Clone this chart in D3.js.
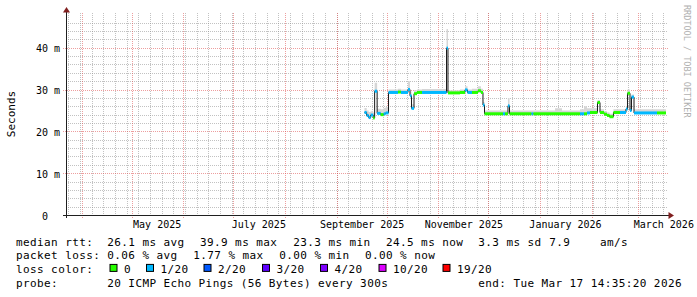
<!DOCTYPE html>
<html>
<head>
<meta charset="utf-8">
<script src="https://cdn.jsdelivr.net/npm/d3@7"></script>
<style>
  body { margin: 0; background: #fff; }
  svg text { font-family: "DejaVu Sans Mono", monospace; }
</style>
</head>
<body>
<div id="chart"></div>
<script>
const endTime = new Date(2026, 2, 17, 14, 35, 20);
const startTime = new Date(endTime.getTime() - 360 * 864e5);

// median rtt (ms), loss step index and top of the smoke (ms), held until the next sample
const times = [
  "2025-09-17T17:00", "2025-09-19T00:00", "2025-09-20T05:00", "2025-09-21T10:00", "2025-09-22T22:00",
  "2025-09-23T19:00", "2025-09-25T07:00", "2025-09-27T10:00", "2025-09-29T05:00", "2025-09-30T10:00",
  "2025-10-02T03:00", "2025-10-07T19:00", "2025-10-09T14:00", "2025-10-13T19:00", "2025-10-15T00:00",
  "2025-10-15T22:00", "2025-10-17T10:00", "2025-10-19T05:00", "2025-10-22T05:00", "2025-11-05T22:00",
  "2025-11-06T19:00", "2025-11-14T00:00", "2025-11-17T00:00", "2025-11-18T12:00", "2025-11-21T05:00",
  "2025-11-24T19:00", "2025-11-26T14:00", "2025-11-27T19:00", "2025-11-28T17:00", "2025-12-09T19:00",
  "2025-12-11T00:00", "2025-12-12T19:00", "2025-12-13T17:00", "2025-12-26T22:00", "2025-12-28T02:00",
  "2026-01-10T00:00", "2026-01-14T05:00", "2026-01-25T00:00", "2026-01-27T10:00", "2026-01-29T05:00",
  "2026-01-31T00:00", "2026-02-04T12:00", "2026-02-06T00:00", "2026-02-08T10:00", "2026-02-10T05:00",
  "2026-02-11T17:00", "2026-02-14T02:00", "2026-02-18T00:00", "2026-02-21T14:00", "2026-02-22T12:00",
  "2026-02-24T00:00", "2026-02-24T22:00", "2026-02-26T10:00", "2026-03-12T05:00"
];
const median = [
  24.5, 23.8, 23.3, 23.9, 23.2,
  29.6, 24.3, 24.0, 24.2, 24.4,
  29.3, 29.4, 29.3, 30.0, 28.5,
  25.5, 29.0, 29.3, 29.3, 39.9,
  29.2, 29.3, 29.9, 29.3, 29.3,
  29.7, 29.3, 26.3, 24.2, 24.2,
  24.2, 26.1, 24.2, 24.2, 24.2,
  24.2, 24.2, 24.2, 24.2, 24.4,
  24.5, 26.9, 24.5, 24.1, 23.8,
  23.5, 24.5, 24.5, 25.3, 29.1,
  25.0, 28.2, 24.4, 24.4
];
const lossStep = [
  1, 1, 1, 1, 0,
  1, 1, 0, 1, 1,
  1, 0, 1, 1, 1,
  1, 0, 0, 1, 1,
  0, 0, 1, 1, 0,
  0, 0, 1, 0, 1,
  0, 1, 0, 1, 0,
  0, 0, 1, 0, 1,
  0, 0, 0, 0, 0,
  0, 0, 1, 1, 0,
  1, 1, 1, 0
];
const smokeTop = [
  25.6, 25.0, 24.6, 24.8, 24.5,
  31.6, 25.4, 25.3, 25.6, 25.8,
  30.0, 30.2, 30.0, 32.0, 29.5,
  26.5, 29.8, 30.0, 30.1, 44.5,
  29.8, 30.0, 30.8, 30.0, 30.2,
  30.8, 30.2, 27.0, 25.0, 25.0,
  25.0, 28.0, 25.0, 25.0, 25.0,
  25.5, 25.0, 25.3, 26.0, 25.5,
  25.5, 27.5, 25.3, 24.8, 24.5,
  24.2, 25.3, 25.3, 26.0, 30.0,
  25.6, 28.8, 25.3, 25.3
];

const lossLabels = ["0", "1/20", "2/20", "3/20", "4/20", "10/20", "19/20"];
const lossColors = ["#26ff00", "#00b8ff", "#0059ff", "#5e00ff", "#7e00ff", "#dd00ff", "#ff0000"];
const yTicks = [0, 10, 20, 30, 40];
const labelMonths = ["2025-05", "2025-07", "2025-09", "2025-11", "2026-01", "2026-03"];
const rttStats = ["26.1 ms avg", "39.9 ms max", "23.3 ms min", "24.5 ms now", "3.3 ms sd", "7.9", "am/s"];
const lossStats = ["0.06 % avg", "1.77 % max", "0.00 % min", "0.00 % now"];
const probeText = "20 ICMP Echo Pings (56 Bytes) every 300s";
const endText = "end: Tue Mar 17 14:35:20 2026";

const width = 697;
const height = 297;
const plot = { left: 66, right: 666, top: 15, bottom: 215 };

const parse = d3.timeParse("%Y-%m-%dT%H:%M");
const data = times.map((t, i) => ({
  t: parse(t), v: median[i], loss: lossStep[i], hi: smokeTop[i]
}));
const line = data.concat([{ ...data[data.length - 1], t: endTime }]);

const svg = d3.select("#chart")
  .append("svg")
  .attr("width", width)
  .attr("height", height);

const x = d3.scaleTime()
  .domain([startTime, endTime])
  .range([plot.left, plot.right]);

const y = d3.scaleLinear()
  .domain([0, 47.82])
  .range([plot.bottom, plot.top]);

// grid
const grid = svg.append("g").attr("shape-rendering", "crispEdges");
const minorX = d3.timeMonday.range(startTime, endTime);
const majorX = d3.timeMonth.range(startTime, endTime);
const minorY = d3.range(2, 48, 2).filter(v => v % 10 && y(v) >= 13);

grid.selectAll(".vmin")
  .data(minorX)
  .join("line")
    .attr("x1", d => Math.round(x(d)) + 0.5)
    .attr("x2", d => Math.round(x(d)) + 0.5)
    .attr("y1", 13)
    .attr("y2", plot.bottom)
    .attr("stroke", "rgba(143,143,143,0.55)")
    .attr("stroke-dasharray", "1,1");

grid.selectAll(".hmin")
  .data(minorY)
  .join("line")
    .attr("x1", plot.left)
    .attr("x2", plot.right + 2)
    .attr("y1", d => Math.round(y(d)) + 0.5)
    .attr("y2", d => Math.round(y(d)) + 0.5)
    .attr("stroke", "rgba(143,143,143,0.55)")
    .attr("stroke-dasharray", "1,1");

grid.selectAll(".vmaj")
  .data(majorX)
  .join("line")
    .attr("x1", d => Math.round(x(d)) + 0.5)
    .attr("x2", d => Math.round(x(d)) + 0.5)
    .attr("y1", 13)
    .attr("y2", plot.bottom + 3)
    .attr("stroke", "rgba(222,79,79,0.55)")
    .attr("stroke-dasharray", "1,1");

grid.selectAll(".hmaj")
  .data(yTicks.filter(v => v > 0))
  .join("line")
    .attr("x1", plot.left - 3)
    .attr("x2", plot.right + 2)
    .attr("y1", d => Math.round(y(d)) + 0.5)
    .attr("y2", d => Math.round(y(d)) + 0.5)
    .attr("stroke", "rgba(222,79,79,0.55)")
    .attr("stroke-dasharray", "1,1");

// smoke
svg.append("path")
  .datum(line)
  .attr("fill", "#d6d6d6")
  .attr("d", d3.area()
    .curve(d3.curveStepAfter)
    .x(d => x(d.t))
    .y0(d => y(d.v))
    .y1(d => y(d.hi)));

// median line
svg.append("path")
  .datum(line)
  .attr("fill", "none")
  .attr("stroke", "#1a1a1a")
  .attr("stroke-width", 1)
  .attr("d", d3.line()
    .curve(d3.curveStepAfter)
    .x(d => x(d.t))
    .y(d => y(d.v)));

// loss colour band over the median
svg.append("g")
  .selectAll("rect")
  .data(data)
  .join("rect")
    .attr("x", d => x(d.t))
    .attr("width", (d, i) => x(line[i + 1].t) - x(d.t))
    .attr("y", d => y(d.v) - 1.5)
    .attr("height", 3)
    .attr("fill", d => lossColors[d.loss]);

// axes
svg.append("line")
  .attr("x1", 63).attr("x2", 669)
  .attr("y1", plot.bottom + 0.5).attr("y2", plot.bottom + 0.5)
  .attr("stroke", "#1f1f1f")
  .attr("shape-rendering", "crispEdges");
svg.append("line")
  .attr("x1", plot.left + 0.5).attr("x2", plot.left + 0.5)
  .attr("y1", plot.bottom + 3).attr("y2", 11)
  .attr("stroke", "#1f1f1f")
  .attr("shape-rendering", "crispEdges");
svg.append("path")
  .attr("d", `M${plot.left + 0.5},7 L${plot.left - 3},12.5 L${plot.left + 4},12.5 Z`)
  .attr("fill", "#801f1f");
svg.append("path")
  .attr("d", `M674,${plot.bottom + 0.5} L668.5,${plot.bottom - 3} L668.5,${plot.bottom + 4} Z`)
  .attr("fill", "#801f1f");

const yAxis = svg.append("g")
  .attr("transform", `translate(${plot.left},0)`)
  .call(d3.axisLeft(y)
    .tickValues(yTicks)
    .tickSize(0)
    .tickPadding(6)
    .tickFormat(d => d ? d + " m" : "0"));
yAxis.select(".domain").remove();
yAxis.selectAll("text")
  .attr("font-family", "DejaVu Sans Mono")
  .attr("font-size", 10)
  .attr("fill", "#000")
  .attr("dy", "0.42em")
  .filter(d => d === 0)
  .attr("dx", -12);

const xAxis = svg.append("g")
  .attr("transform", `translate(0,${plot.bottom})`)
  .call(d3.axisBottom(x)
    .tickValues(labelMonths.map(m => d3.timeDay.offset(d3.timeParse("%Y-%m")(m), 15)))
    .tickSize(0)
    .tickPadding(6)
    .tickFormat(d3.timeFormat("%B %Y")));
xAxis.select(".domain").remove();
xAxis.selectAll("text")
  .attr("font-family", "DejaVu Sans Mono")
  .attr("font-size", 10)
  .attr("fill", "#000");

svg.append("text")
  .attr("transform", "translate(15,114) rotate(-90)")
  .attr("text-anchor", "middle")
  .attr("font-size", 11)
  .text("Seconds");

svg.append("text")
  .attr("transform", "translate(683.5,5) rotate(90)")
  .attr("font-size", 8.5)
  .attr("fill", "#b0b0b0")
  .text("RRDTOOL / TOBI OETIKER");

// legend
const legend = svg.append("g")
  .attr("font-size", 11)
  .attr("letter-spacing", 0.4)
  .attr("fill", "#000");

const rows = [245.5, 259.2, 272.9, 286.6];
const rttX = [107.3, 200, 293.3, 386, 478.3, 549.3, 600];
const lossX = [107.3, 193.3, 279.3, 365];
const swatchX = [109.5, 146, 203.5, 262, 320, 378.5, 442.5];

legend.append("text").attr("x", 16).attr("y", rows[0]).text("median rtt:");
legend.selectAll(".rtt").data(rttStats).join("text")
  .attr("x", (d, i) => rttX[i]).attr("y", rows[0]).text(d => d);

legend.append("text").attr("x", 16).attr("y", rows[1]).text("packet loss:");
legend.selectAll(".pl").data(lossStats).join("text")
  .attr("x", (d, i) => lossX[i]).attr("y", rows[1]).text(d => d);

legend.append("text").attr("x", 16).attr("y", rows[2]).text("loss color:");
const items = legend.selectAll(".lc").data(lossLabels).join("g");
items.append("rect")
  .attr("x", (d, i) => swatchX[i] + 0.5)
  .attr("y", rows[2] - 8.5)
  .attr("width", 7)
  .attr("height", 7)
  .attr("fill", (d, i) => lossColors[i])
  .attr("stroke", "#000");
items.append("text")
  .attr("x", (d, i) => swatchX[i] + 14.5)
  .attr("y", rows[2])
  .text(d => d);

legend.append("text").attr("x", 16).attr("y", rows[3]).text("probe:");
legend.append("text").attr("x", 107.3).attr("y", rows[3]).text(probeText);
legend.append("text").attr("x", 478.3).attr("y", rows[3]).text(endText);
</script>
</body>
</html>
